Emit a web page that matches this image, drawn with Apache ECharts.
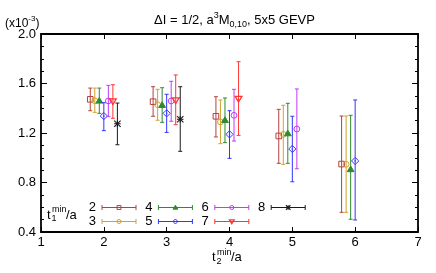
<!DOCTYPE html>
<html><head><meta charset="utf-8">
<script src="https://cdn.jsdelivr.net/npm/echarts@6/dist/echarts.min.js"></script>
<style>html,body{margin:0;padding:0;background:#fff}#c{width:436px;height:273px}</style>
</head><body><div id="c"></div>
<script>
// ---- data ----
const xTicks = [1, 2, 3, 4, 5, 6, 7];
const yTicks = [0.4, 0.8, 1.2, 1.6, 2.0];
const t1Labels = ['2', '3', '4', '5', '6', '7', '8'];

const s2_t2 = [2, 3, 4, 5, 6];
const s2_val = [1.472, 1.453, 1.335, 1.176, 0.949];
const s2_hi = [1.563, 1.574, 1.493, 1.391, 1.337];
const s2_lo = [1.380, 1.335, 1.168, 0.955, 0.559];

const s3_t2 = [2, 3, 4, 5, 6];
const s3_val = [1.461, 1.429, 1.289, 1.189, 0.947];
const s3_hi = [1.563, 1.553, 1.467, 1.424, 1.337];
const s3_lo = [1.367, 1.303, 1.114, 0.947, 0.559];

const s4_t2 = [2, 3, 4, 5, 6];
const s4_val = [1.461, 1.426, 1.305, 1.197, 0.907];
const s4_hi = [1.563, 1.566, 1.483, 1.440, 1.343];
const s4_lo = [1.359, 1.286, 1.122, 0.955, 0.503];

const s5_t2 = [2, 3, 4, 5, 6];
const s5_val = [1.337, 1.359, 1.189, 1.071, 0.974];
const s5_hi = [1.445, 1.513, 1.380, 1.335, 1.467];
const s5_lo = [1.219, 1.205, 0.995, 0.806, 0.497];

const s6_t2 = [2, 3, 4, 5];
const s6_val = [1.459, 1.459, 1.343, 1.232];
const s6_hi = [1.585, 1.618, 1.553, 1.556];
const s6_lo = [1.332, 1.295, 1.135, 0.911];

const s7_t2 = [2, 3, 4];
const s7_val = [1.456, 1.464, 1.477];
const s7_hi = [1.590, 1.669, 1.776];
const s7_lo = [1.319, 1.267, 1.181];

const s8_t2 = [2, 3];
const s8_val = [1.275, 1.311];
const s8_hi = [1.442, 1.574];
const s8_lo = [1.105, 1.052];

const seriesData = [
  [s2_t2, s2_val, s2_hi, s2_lo],
  [s3_t2, s3_val, s3_hi, s3_lo],
  [s4_t2, s4_val, s4_hi, s4_lo],
  [s5_t2, s5_val, s5_hi, s5_lo],
  [s6_t2, s6_val, s6_hi, s6_lo],
  [s7_t2, s7_val, s7_hi, s7_lo],
  [s8_t2, s8_val, s8_hi, s8_lo]
];

// ---- style ----
const colors = ['#b4413f', '#d4a12a', '#2f8a2f', '#3434ff', '#c23bf5', '#ff3535', '#1a1a1a'];
const OFFSET = 0.072;
const FONT = '"Liberation Sans", Arial, Helvetica, sans-serif';

function marker(k, x, y, s, col) {
  const st = { fill: 'none', stroke: col, lineWidth: 1 };
  switch (k) {
    case 0: return [{ type: 'rect', shape: { x: x - 2.8 * s, y: y - 2.8 * s, width: 5.6 * s, height: 5.6 * s }, style: st }];
    case 1: case 4: return [{ type: 'circle', shape: { cx: x, cy: y, r: 2.9 * s }, style: st }];
    case 2: return [{ type: 'polygon', shape: { points: [[x, y - 3.2 * s], [x + 3.4 * s, y + 2.4 * s], [x - 3.4 * s, y + 2.4 * s]] }, style: { fill: col, stroke: col, lineWidth: 1 } }];
    case 3: return [{ type: 'polygon', shape: { points: [[x, y - 3.6 * s], [x + 3.6 * s, y], [x, y + 3.6 * s], [x - 3.6 * s, y]] }, style: st },
                    { type: 'circle', shape: { cx: x, cy: y, r: 0.8 * s }, style: { fill: col } }];
    case 5: return [{ type: 'polygon', shape: { points: [[x, y + 3.2 * s], [x + 3.4 * s, y - 2.4 * s], [x - 3.4 * s, y - 2.4 * s]] }, style: { fill: 'none', stroke: col, lineWidth: 1.3 } }];
    case 6: {
      const r = 3.2 * s, st2 = { stroke: col, lineWidth: 1.1 };
      return [
        { type: 'line', shape: { x1: x - r, y1: y - r, x2: x + r, y2: y + r }, style: st2 },
        { type: 'line', shape: { x1: x - r, y1: y + r, x2: x + r, y2: y - r }, style: st2 },
        { type: 'line', shape: { x1: x - r, y1: y, x2: x + r, y2: y }, style: st2 },
        { type: 'line', shape: { x1: x, y1: y - r, x2: x, y2: y + r }, style: st2 }
      ];
    }
  }
  return [];
}

function makeRender(k) {
  return function (params, api) {
    const x = api.value(0) + (k - 3) * OFFSET;
    const c = api.coord([x, api.value(1)]);
    const h = api.coord([x, api.value(2)]);
    const l = api.coord([x, api.value(3)]);
    const col = colors[k];
    const ls = { stroke: col, lineWidth: 1 };
    const children = [
      { type: 'line', shape: { x1: c[0], y1: h[1], x2: c[0], y2: l[1] }, style: ls },
      { type: 'line', shape: { x1: c[0] - 2, y1: h[1], x2: c[0] + 2, y2: h[1] }, style: ls },
      { type: 'line', shape: { x1: c[0] - 2, y1: l[1], x2: c[0] + 2, y2: l[1] }, style: ls }
    ].concat(marker(k, c[0], c[1], 1, col));
    return { type: 'group', children: children };
  };
}

const series = seriesData.map((d, k) => ({
  type: 'custom',
  name: t1Labels[k],
  xAxisIndex: 0, yAxisIndex: 0,
  renderItem: makeRender(k),
  encode: { x: 0, y: 1 },
  data: d[0].map((t, i) => [t, d[1][i], d[2][i], d[3][i]]),
  clip: false,
  z: 10 + k
}));

// ---- legend (graphic) ----
const legendEls = [];
t1Labels.forEach((lab, k) => {
  const col = Math.floor(k / 2), row = k % 2;
  const xs = 102 + col * 56.4, y = 207.5 + row * 14;
  const cl = colors[k];
  const ls = { stroke: cl, lineWidth: 1 };
  legendEls.push({ type: 'text', x: xs - 6, y: y, style: { text: lab, fill: '#000', font: '13px ' + FONT, textAlign: 'right', textVerticalAlign: 'middle' } });
  legendEls.push({ type: 'line', shape: { x1: xs, y1: y, x2: xs + 34, y2: y }, style: ls });
  legendEls.push({ type: 'line', shape: { x1: xs, y1: y - 2.5, x2: xs, y2: y + 2.5 }, style: ls });
  legendEls.push({ type: 'line', shape: { x1: xs + 34, y1: y - 2.5, x2: xs + 34, y2: y + 2.5 }, style: ls });
  marker(k, xs + 17, y, 0.7, cl).forEach(e => legendEls.push(e));
});
function stackedLabel(x, y, sub) {
  return [
    { type: 'text', x: x, y: y, style: { text: 't', fill: '#000', font: '13px ' + FONT, textVerticalAlign: 'middle' } },
    { type: 'text', x: x + 5, y: y - 5, style: { text: 'min', fill: '#000', font: '9px ' + FONT, textVerticalAlign: 'middle' } },
    { type: 'text', x: x + 4.5, y: y + 4, style: { text: sub, fill: '#000', font: '9px ' + FONT, textVerticalAlign: 'middle' } },
    { type: 'text', x: x + 19, y: y, style: { text: '/a', fill: '#000', font: '13px ' + FONT, textVerticalAlign: 'middle' } }
  ];
}
stackedLabel(47, 215, '1').forEach(e => legendEls.push(e));
stackedLabel(212, 257.5, '2').forEach(e => legendEls.push(e));
legendEls.push({
  type: 'text', x: 5, y: 22,
  style: {
    text: '{n|(x10}{s|-3}{n|)}', textVerticalAlign: 'middle',
    rich: { n: { fontSize: 12, fontFamily: FONT, fill: '#000', verticalAlign: 'bottom', lineHeight: 15 },
            s: { fontSize: 8, fontFamily: FONT, fill: '#000', verticalAlign: 'top', lineHeight: 15 } }
  }
});

const chart = echarts.init(document.getElementById('c'), null, { renderer: 'canvas' });
const axisCommon = {
  axisLine: { show: true, onZero: false, lineStyle: { color: '#000', width: 1.8 } },
  splitLine: { show: false }
};
chart.setOption({
  backgroundColor: '#fff',
  animation: false,
  title: {
    left: 229.5, top: 6, textAlign: 'center',
    text: '{n|ΔI = 1/2, a}{p|3}{n|M}{b|0,10}{n|, 5x5 GEVP}',
    textStyle: {
      fontWeight: 'normal',
      rich: {
        n: { fontSize: 13, fontFamily: FONT, fontWeight: 'normal', color: '#000', lineHeight: 18, verticalAlign: 'middle' },
        p: { fontSize: 9, fontFamily: FONT, fontWeight: 'normal', color: '#000', lineHeight: 18, verticalAlign: 'top' },
        b: { fontSize: 9, fontFamily: FONT, fontWeight: 'normal', color: '#000', lineHeight: 18, verticalAlign: 'bottom' }
      }
    }
  },
  grid: { left: 41, right: 18, top: 34, bottom: 41, containLabel: false },
  xAxis: [
    Object.assign({
      type: 'value', position: 'bottom', min: xTicks[0], max: xTicks[xTicks.length - 1], interval: 1,
      axisTick: { show: true, inside: true, length: 5, lineStyle: { color: '#000' } },
      axisLabel: { color: '#000', fontSize: 13, fontFamily: FONT, margin: 4, formatter: v => String(v) }
    }, axisCommon),
    Object.assign({
      type: 'value', position: 'top', min: xTicks[0], max: xTicks[xTicks.length - 1], interval: 1,
      axisTick: { show: true, inside: true, length: 5, lineStyle: { color: '#000' } },
      axisLabel: { show: false }
    }, axisCommon)
  ],
  yAxis: [
    Object.assign({
      type: 'value', position: 'left', min: yTicks[0], max: yTicks[yTicks.length - 1], interval: 0.4,
      axisTick: { show: true, inside: true, length: 6, lineStyle: { color: '#000' } },
      minorTick: { show: true, splitNumber: 4, length: 3, lineStyle: { color: '#000' } },
      minorSplitLine: { show: false },
      axisLabel: { color: '#000', fontSize: 13, fontFamily: FONT, margin: 5, formatter: v => v.toFixed(1) }
    }, axisCommon),
    Object.assign({
      type: 'value', position: 'right', min: yTicks[0], max: yTicks[yTicks.length - 1], interval: 0.4,
      axisTick: { show: true, inside: true, length: 6, lineStyle: { color: '#000' } },
      minorTick: { show: true, splitNumber: 4, length: 3, lineStyle: { color: '#000' } },
      minorSplitLine: { show: false },
      axisLabel: { show: false }
    }, axisCommon)
  ],
  graphic: [{ type: 'group', children: legendEls, z: 100 }],
  series: series
});
</script></body></html>
